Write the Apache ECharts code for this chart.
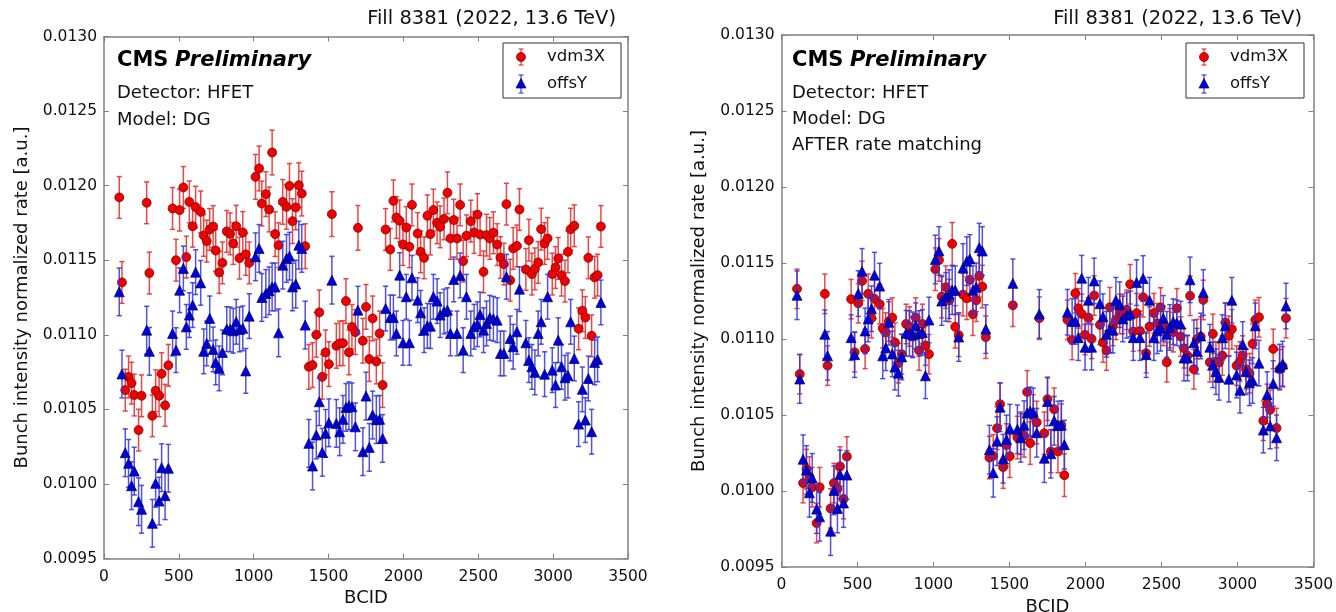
<!DOCTYPE html>
<html>
<head>
<meta charset="utf-8">
<script src="https://cdn.jsdelivr.net/npm/echarts@6/dist/echarts.min.js"></script>
<style>
  html, body { margin: 0; padding: 0; background: #fff; }
  #chart { width: 1336px; height: 612px; }
</style>
</head>
<body>
<div id="chart"></div>
<script>
// Colliding bunch crossings (BCID) of fill 8381, grouped in five trains
const bcid = [
  102,120,142,164,184,202,231,251,285,303,323,345,368,385,408,430,
  458,481,505,530,550,570,592,612,646,666,686,706,729,746,769,791,820,842,863,883,905,927,947,970,
  1012,1036,1054,1081,1103,1123,1143,1166,1194,1219,1239,1259,1281,1301,1321,1344,
  1368,1393,1418,1438,1458,1480,1502,1522,1552,1574,1596,1616,1636,1656,1679,1696,1729,1750,1772,1794,1819,1841,1861,
  1881,1912,1933,1953,1975,1997,2019,2040,2057,2095,2115,2138,2160,2180,2200,2225,2245,2271,2294,2314,2336,2358,2379,2399,2421,
  2450,2472,2494,2512,2535,2555,2577,2601,2626,2648,2671,2688,2713,2733,2758,2775,2818,2838,2858,2878,2900,2920,2943,2963,2994,
  3016,3034,3056,3079,3099,3117,3141,3170,3195,3215,3235,3257,3277,3297,3319
];
const trainSizes = [16, 24, 16, 23, 65];

// offsY scan: normalized rate per bunch (same in both panels)
const offsY = [
  0.011288,0.010737,0.010209,0.010138,0.009988,0.010086,0.009881,0.009830,0.011031,0.010889,0.009736,0.010004,0.009885,0.010109,0.009921,0.010105,
  0.011009,0.010897,0.011299,0.011445,0.011053,0.011132,0.011199,0.011420,0.011348,0.010889,0.010942,0.011110,0.010902,0.010815,0.010775,0.010882,0.011038,0.011036,0.011027,0.011087,0.011036,0.011043,0.010758,0.011125,
  0.011523,0.011579,0.011250,0.011277,0.011295,0.011321,0.011321,0.011013,0.011467,0.011512,0.011527,0.011321,0.011340,0.011601,0.011579,0.011065,
  0.010272,0.010120,0.010328,0.010551,0.010212,0.010339,0.010410,0.011366,0.010406,0.010350,0.010433,0.010513,0.010524,0.010517,0.010383,0.011165,0.010216,0.010589,0.010245,0.010462,0.010431,0.010433,0.010305,
  0.011176,0.011116,0.011116,0.011009,0.011400,0.010946,0.011255,0.010946,0.011382,0.011232,0.011147,0.011031,0.011060,0.011058,0.011255,0.011226,0.011132,0.011156,0.011165,0.011009,0.011371,0.011009,0.011398,0.010897,0.011255,
  0.011009,0.011054,0.011071,0.011136,0.011031,0.011076,0.011114,0.011107,0.011098,0.010875,0.010875,0.011389,0.010975,0.010920,0.011020,0.011306,0.010946,0.010830,0.010785,0.010748,0.011009,0.011087,0.010736,0.011255,0.010763,
  0.010663,0.010964,0.010785,0.010712,0.010727,0.011087,0.010841,0.010401,0.010634,0.010428,0.010707,0.010350,0.010815,0.010835,0.011217
];

// vdm3X scan before rate matching
const vdm3XRaw = [
  0.011921,0.011351,0.010629,0.010717,0.010676,0.010596,0.010361,0.010591,0.011885,0.011414,0.010457,0.010625,0.010591,0.010739,0.010527,0.010795,
  0.011847,0.011500,0.011836,0.011988,0.011521,0.011891,0.011728,0.011856,0.011824,0.011666,0.011628,0.011706,0.011726,0.011565,0.011418,0.011482,0.011693,0.011677,0.011612,0.011728,0.011514,0.011686,0.011539,0.011482,
  0.012059,0.012115,0.011880,0.011943,0.011840,0.012222,0.011675,0.011601,0.011891,0.011858,0.011998,0.011762,0.011854,0.012003,0.011947,0.011594,
  0.010785,0.010797,0.011000,0.011150,0.010718,0.010882,0.010803,0.011809,0.010926,0.010942,0.010944,0.011226,0.010882,0.011053,0.011018,0.011717,0.010960,0.011187,0.010837,0.011110,0.010821,0.011009,0.010663,
  0.011706,0.011572,0.011898,0.011786,0.011764,0.011605,0.011719,0.011590,0.011871,0.011679,0.011556,0.011516,0.011798,0.011675,0.011836,0.011751,0.011724,0.011777,0.011952,0.011646,0.011769,0.011646,0.011871,0.011494,0.011664,
  0.011762,0.011686,0.011806,0.011672,0.011422,0.011668,0.011646,0.011684,0.011605,0.011518,0.011474,0.011876,0.011366,0.011579,0.011596,0.011840,0.011438,0.011634,0.011407,0.011442,0.011485,0.011708,0.011612,0.011646,0.011407,
  0.011451,0.011512,0.011400,0.011360,0.011556,0.011708,0.011731,0.011040,0.011161,0.011116,0.011516,0.010993,0.011386,0.011400,0.011726
];

// vdm3X scan after rate matching
const vdm3XMatched = [
  0.011330,0.010769,0.010052,0.010144,0.010095,0.010025,0.009789,0.010025,0.011297,0.010825,0.009885,0.010052,0.010014,0.010161,0.009947,0.010227,
  0.011262,0.010913,0.011235,0.011382,0.010935,0.011297,0.011137,0.011264,0.011229,0.011071,0.011042,0.011115,0.011141,0.010977,0.010841,0.010900,0.011099,0.011082,0.011016,0.011141,0.010924,0.011099,0.010957,0.010900,
  0.011459,0.011520,0.011279,0.011341,0.011253,0.011626,0.011080,0.011025,0.011292,0.011268,0.011389,0.011163,0.011255,0.011415,0.011345,0.011012,
  0.010220,0.010231,0.010413,0.010571,0.010157,0.010302,0.010229,0.011222,0.010352,0.010380,0.010363,0.010652,0.010315,0.010494,0.010451,0.011137,0.010380,0.010604,0.010260,0.010538,0.010260,0.010433,0.010104,
  0.011126,0.010994,0.011301,0.011202,0.011165,0.011027,0.011141,0.011001,0.011286,0.011093,0.010977,0.010924,0.011209,0.011086,0.011126,0.011165,0.011165,0.011192,0.011360,0.011049,0.011170,0.011053,0.011275,0.010907,0.011082,
  0.011170,0.011104,0.011207,0.011086,0.010847,0.011071,0.011045,0.011202,0.011016,0.010939,0.010891,0.011284,0.010801,0.010999,0.011016,0.011257,0.010847,0.011034,0.010852,0.010845,0.010891,0.011108,0.011021,0.011064,0.010825,
  0.010852,0.010891,0.010801,0.010775,0.010968,0.011126,0.011143,0.010462,0.010573,0.010534,0.010935,0.010414,0.010801,0.010820,0.011137
];

// Typical statistical uncertainty per train
const errRawByTrain     = [0.00014, 0.00014, 0.00015, 0.00015, 0.00014];
const errMatchedByTrain = [0.00013, 0.00013, 0.00014, 0.00014, 0.00013];
const errOffsByTrain    = [0.00016, 0.00015, 0.00016, 0.00016, 0.00015];

const FONT = 'DejaVu Sans';
const AXIS_GRAY = '#808080';
const TEXT = '#111';

function perBunch(byTrain) {
  const out = [];
  trainSizes.forEach((n, t) => { for (let i = 0; i < n; i++) out.push(byTrain[t]); });
  return out;
}

function errData(values, errs) {
  return bcid.map((b, i) => [b, values[i], values[i] - errs[i], values[i] + errs[i]]);
}
function pointData(values) {
  return bcid.map((b, i) => [b, values[i]]);
}

function errorBarRenderer(color) {
  return function (params, api) {
    const x = api.value(0);
    const lo = api.coord([x, api.value(2)]);
    const hi = api.coord([x, api.value(3)]);
    const cap = 2.6;
    const st = { stroke: color, lineWidth: 1.5 };
    return {
      type: 'group',
      children: [
        { type: 'line', shape: { x1: lo[0], y1: lo[1], x2: hi[0], y2: hi[1] }, style: st },
        { type: 'line', shape: { x1: lo[0] - cap, y1: lo[1], x2: lo[0] + cap, y2: lo[1] }, style: st },
        { type: 'line', shape: { x1: hi[0] - cap, y1: hi[1], x2: hi[0] + cap, y2: hi[1] }, style: st }
      ]
    };
  };
}

const RED = '#f00000', RED_EDGE = '#6a0000', RED_BAR = 'rgba(232,52,52,0.9)';
const BLUE = '#0000dc', BLUE_EDGE = '#00005c', BLUE_BAR = 'rgba(52,52,222,0.85)';

function panelSeries(xi, yi, redVals, redErr) {
  return [
    { type: 'custom', name: 'vdm3X', xAxisIndex: xi, yAxisIndex: yi, z: 2,
      renderItem: errorBarRenderer(RED_BAR), data: errData(redVals, redErr),
      encode: { x: 0, y: [1, 2, 3] }, silent: true },
    { type: 'scatter', name: 'vdm3X', xAxisIndex: xi, yAxisIndex: yi, z: 3,
      symbol: 'circle', symbolSize: 9,
      itemStyle: { color: RED, borderColor: RED_EDGE, borderWidth: 0.7, opacity: 1 },
      data: pointData(redVals) },
    { type: 'custom', name: 'offsY', xAxisIndex: xi, yAxisIndex: yi, z: 4,
      renderItem: errorBarRenderer(BLUE_BAR), data: errData(offsY, perBunch(errOffsByTrain)),
      encode: { x: 0, y: [1, 2, 3] }, silent: true },
    { type: 'scatter', name: 'offsY', xAxisIndex: xi, yAxisIndex: yi, z: 5,
      symbol: 'triangle', symbolSize: 10,
      itemStyle: { color: BLUE, borderColor: BLUE_EDGE, borderWidth: 0.7, opacity: 1 },
      data: pointData(offsY) }
  ];
}

function xAxes(g) {
  const common = {
    type: 'value', gridIndex: g, min: 0, max: 3500, interval: 500,
    axisLine: { show: true, onZero: false, lineStyle: { color: AXIS_GRAY, width: 1.5 } },
    axisTick: { show: true, inside: true, length: 5, lineStyle: { color: AXIS_GRAY, width: 1 } },
    splitLine: { show: false }
  };
  return [
    Object.assign({}, common, {
      position: 'bottom',
      axisLabel: { color: TEXT, fontSize: 15.5, fontFamily: FONT, margin: 10,
                   formatter: v => String(Math.round(v)) },
      name: 'BCID', nameLocation: 'middle', nameGap: 28,
      nameTextStyle: { color: TEXT, fontSize: 18, fontFamily: FONT }
    }),
    Object.assign({}, common, { position: 'top', axisLabel: { show: false } })
  ];
}

function yAxes(g) {
  const common = {
    type: 'value', gridIndex: g, min: 0.0095, max: 0.0130, interval: 0.0005,
    axisLine: { show: true, onZero: false, lineStyle: { color: AXIS_GRAY, width: 1.5 } },
    axisTick: { show: true, inside: true, length: 5, lineStyle: { color: AXIS_GRAY, width: 1 } },
    splitLine: { show: false }
  };
  return [
    Object.assign({}, common, {
      position: 'left',
      axisLabel: { color: TEXT, fontSize: 15.5, fontFamily: FONT, margin: 7,
                   formatter: v => v.toFixed(4) },
      name: 'Bunch intensity normalized rate [a.u.]', nameLocation: 'middle', nameGap: 73,
      nameRotate: 90,
      nameTextStyle: { color: TEXT, fontSize: 18, fontFamily: FONT }
    }),
    Object.assign({}, common, { position: 'right', axisLabel: { show: false } })
  ];
}

function txt(x, y, text, opts) {
  return {
    type: 'text', x: x, y: y, z: 20,
    style: Object.assign({ text: text, fill: TEXT, fontFamily: FONT, fontSize: 18,
                           align: 'left', verticalAlign: 'middle' }, opts || {})
  };
}

function cmsLabel(x, y) {
  return {
    type: 'text', x: x, y: y, z: 20,
    style: {
      text: '{a|CMS}  {b|Preliminary}', verticalAlign: 'middle', align: 'left',
      rich: {
        a: { fontFamily: FONT, fontSize: 21, fontWeight: 'bold', fill: '#000' },
        b: { fontFamily: FONT, fontSize: 21, fontWeight: 'bold', fontStyle: 'italic', fill: '#000' }
      }
    }
  };
}

function legendBox(x0, y0) {
  const mx = x0 + 18, ry = y0 + 14, by = y0 + 41;
  const line = (x1, y1, x2, y2, c) => ({ type: 'line', z: 21,
    shape: { x1, y1, x2, y2 }, style: { stroke: c, lineWidth: 1.3 } });
  return [
    { type: 'rect', z: 19, shape: { x: x0, y: y0, width: 118, height: 55 },
      style: { fill: '#fff', stroke: '#333', lineWidth: 1 } },
    line(mx, ry - 8, mx, ry + 8, RED_BAR), line(mx - 2.5, ry - 8, mx + 2.5, ry - 8, RED_BAR),
    line(mx - 2.5, ry + 8, mx + 2.5, ry + 8, RED_BAR),
    { type: 'circle', z: 22, shape: { cx: mx, cy: ry, r: 4.5 },
      style: { fill: RED, stroke: RED_EDGE, lineWidth: 0.7 } },
    line(mx, by - 9, mx, by + 9, BLUE_BAR), line(mx - 2.5, by - 9, mx + 2.5, by - 9, BLUE_BAR),
    line(mx - 2.5, by + 9, mx + 2.5, by + 9, BLUE_BAR),
    { type: 'polygon', z: 22, shape: { points: [[mx, by - 5.5], [mx - 5, by + 4], [mx + 5, by + 4]] },
      style: { fill: BLUE, stroke: BLUE_EDGE, lineWidth: 0.7 } },
    txt(x0 + 44, ry, 'vdm3X', { fontSize: 16.5 }),
    txt(x0 + 44, by, 'offsY', { fontSize: 16.5 })
  ];
}

const chart = echarts.init(document.getElementById('chart'), null, { renderer: 'canvas' });

chart.setOption({
  animation: false,
  backgroundColor: '#fff',
  grid: [
    { left: 104, top: 36.5, width: 524, height: 522, containLabel: false, outerBoundsMode: 'none' },
    { left: 781.5, top: 35, width: 532, height: 532, containLabel: false, outerBoundsMode: 'none' }
  ],
  xAxis: xAxes(0).concat(xAxes(1)),
  yAxis: yAxes(0).concat(yAxes(1)),
  series: panelSeries(0, 0, vdm3XRaw, perBunch(errRawByTrain))
    .concat(panelSeries(2, 2, vdm3XMatched, perBunch(errMatchedByTrain))),
  graphic: [
    txt(616, 19, 'Fill 8381 (2022, 13.6 TeV)', { align: 'right', fontSize: 19.5 }),
    txt(1302, 19, 'Fill 8381 (2022, 13.6 TeV)', { align: 'right', fontSize: 19.5 }),
    cmsLabel(117, 61),
    txt(117, 93, 'Detector: HFET'),
    txt(117, 120, 'Model: DG'),
    cmsLabel(792, 61),
    txt(792, 93, 'Detector: HFET'),
    txt(792, 119, 'Model: DG'),
    txt(792, 145, 'AFTER rate matching')
  ].concat(legendBox(503, 43)).concat(legendBox(1186, 43))
});
</script>
</body>
</html>
